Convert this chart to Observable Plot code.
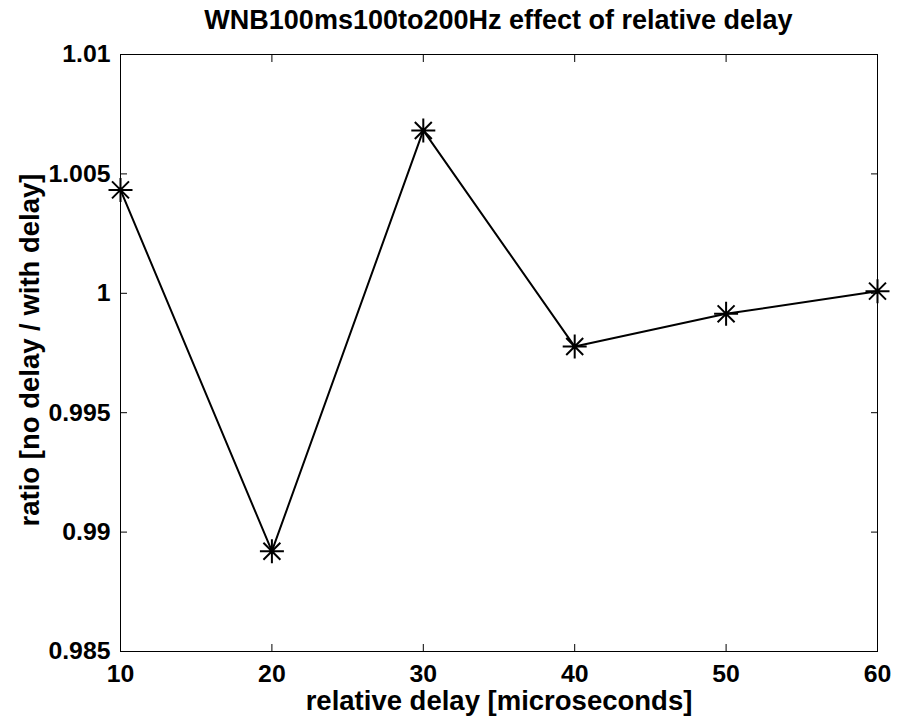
<!DOCTYPE html>
<html><head><meta charset="utf-8">
<script src="https://cdn.jsdelivr.net/npm/d3@7"></script>
<script src="https://cdn.jsdelivr.net/npm/@observablehq/plot@0.6"></script>
<style>
body{margin:0;background:#fff;font-family:"Liberation Sans",Arial,sans-serif;}
#title{height:40px;line-height:41px;padding:0 20px 0 120px;text-align:center;font-weight:bold;font-size:27px;white-space:nowrap;color:#000}
</style></head><body>
<div id="title"></div>
<div id="chart"></div>
<script>
const title = "WNB100ms100to200Hz effect of relative delay";
const xLabel = "relative delay [microseconds]";
const yLabel = "ratio [no delay / with delay]";
const delays = [10, 20, 30, 40, 50, 60];
const ratios = [1.00433, 0.98920, 1.00682, 0.99777, 0.99914, 1.00009];
const xTicks = [10, 20, 30, 40, 50, 60];
const yTicks = [0.985, 0.99, 0.995, 1, 1.005, 1.01];
const yTickLabels = ["0.985", "0.99", "0.995", "1", "1.005", "1.01"];

document.getElementById("title").textContent = title;

const data = delays.map((d, i) => ({delay: d, ratio: ratios[i]}));

// MATLAB-style '*' marker: plus + x
const asterisk = {
  draw(context, size) {
    const r = Math.sqrt(size / Math.PI);
    const d = r * Math.SQRT1_2;
    context.moveTo(-r, 0); context.lineTo(r, 0);
    context.moveTo(0, -r); context.lineTo(0, r);
    context.moveTo(-d, -d); context.lineTo(d, d);
    context.moveTo(-d, d); context.lineTo(d, -d);
  }
};

const chart = Plot.plot({
  width: 897,
  height: 677,
  marginTop: 14,
  marginBottom: 66,
  marginLeft: 120,
  marginRight: 20,
  style: {fontFamily: "Liberation Sans, Arial, sans-serif", fontWeight: "bold", color: "black", background: "white", overflow: "visible"},
  x: {domain: [10, 60]},
  y: {domain: [0.985, 1.01]},
  marks: [
    Plot.frame({stroke: "black", strokeWidth: 1}),
    Plot.axisX({anchor: "bottom", ticks: xTicks, tickSize: -7, fill: "none", label: null, tickFormat: () => ""}),
    Plot.axisX({anchor: "top", ticks: xTicks, tickSize: -7, fill: "none", label: null, tickFormat: () => ""}),
    Plot.axisY({anchor: "left", ticks: yTicks, tickSize: -7, fill: "none", label: null, tickFormat: () => ""}),
    Plot.axisY({anchor: "right", ticks: yTicks, tickSize: -7, fill: "none", label: null, tickFormat: () => ""}),
    Plot.axisX({anchor: "bottom", ticks: xTicks, tickSize: 0, tickPadding: 12.5, fontSize: 24.8, label: null, tickFormat: d => String(d)}),
    Plot.axisY({anchor: "left", ticks: yTicks, tickSize: 0, tickPadding: 10, fontSize: 24.8, label: null, tickFormat: d => yTickLabels[yTicks.indexOf(d)]}),
    Plot.line(data, {x: "delay", y: "ratio", stroke: "black", strokeWidth: 2}),
    Plot.dot(data, {x: "delay", y: "ratio", symbol: asterisk, r: 12, stroke: "black", fill: "none", strokeWidth: 2}),
    Plot.text([xLabel], {text: d => d, frameAnchor: "bottom", lineAnchor: "middle", textAnchor: "middle", dy: 49.5, fontSize: 27.5, fontWeight: "bold", fill: "black"}),
    Plot.text([yLabel], {text: d => d, frameAnchor: "left", lineAnchor: "middle", textAnchor: "middle", rotate: -90, dx: -90.6, dy: -3, fontSize: 27.5, fontWeight: "bold", fill: "black"})
  ]
});
document.getElementById("chart").appendChild(chart);
</script>
</body></html>
